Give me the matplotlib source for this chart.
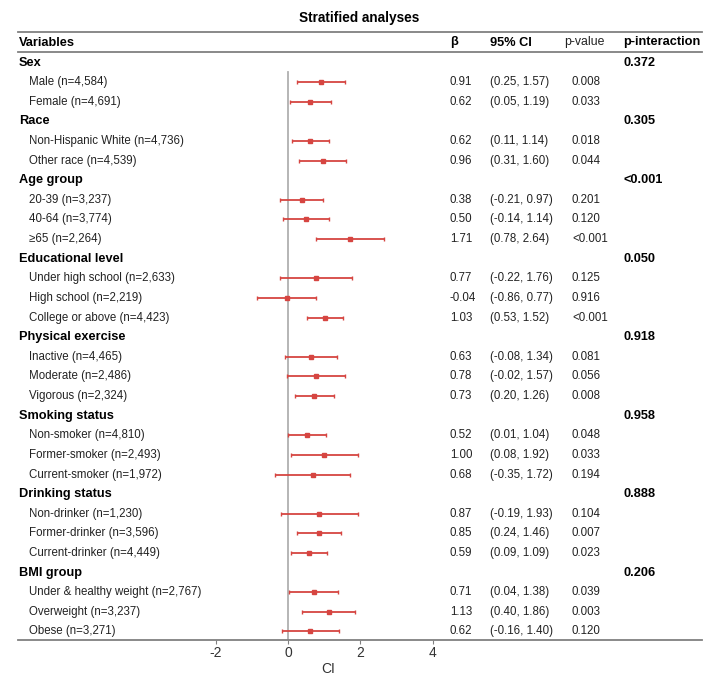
import matplotlib.pyplot as plt
from matplotlib.lines import Line2D
from matplotlib.transforms import blended_transform_factory

plt.rcParams['font.family'] = ['Liberation Sans', 'DejaVu Sans']
plt.rcParams['axes.unicode_minus'] = False

groups = ["Sex", "Race", "Age group", "Educational level", "Physical exercise",
          "Smoking status", "Drinking status", "BMI group"]
p_interaction = ["0.372", "0.305", "<0.001", "0.050", "0.918", "0.958", "0.888", "0.206"]
subgroups = [
    ["Male (n=4,584)", "Female (n=4,691)"],
    ["Non-Hispanic White (n=4,736)", "Other race (n=4,539)"],
    ["20-39 (n=3,237)", "40-64 (n=3,774)", "\u226565 (n=2,264)"],
    ["Under high school (n=2,633)", "High school (n=2,219)", "College or above (n=4,423)"],
    ["Inactive (n=4,465)", "Moderate (n=2,486)", "Vigorous (n=2,324)"],
    ["Non-smoker (n=4,810)", "Former-smoker (n=2,493)", "Current-smoker (n=1,972)"],
    ["Non-drinker (n=1,230)", "Former-drinker (n=3,596)", "Current-drinker (n=4,449)"],
    ["Under & healthy weight (n=2,767)", "Overweight (n=3,237)", "Obese (n=3,271)"],
]
beta = [0.91, 0.62, 0.62, 0.96, 0.38, 0.50, 1.71, 0.77, -0.04, 1.03,
        0.63, 0.78, 0.73, 0.52, 1.00, 0.68, 0.87, 0.85, 0.59, 0.71, 1.13, 0.62]
ci_low = [0.25, 0.05, 0.11, 0.31, -0.21, -0.14, 0.78, -0.22, -0.86, 0.53,
          -0.08, -0.02, 0.20, 0.01, 0.08, -0.35, -0.19, 0.24, 0.09, 0.04, 0.40, -0.16]
ci_high = [1.57, 1.19, 1.14, 1.60, 0.97, 1.14, 2.64, 1.76, 0.77, 1.52,
           1.34, 1.57, 1.26, 1.04, 1.92, 1.72, 1.93, 1.46, 1.09, 1.38, 1.86, 1.40]
p_value = ["0.008", "0.033", "0.018", "0.044", "0.201", "0.120", "<0.001", "0.125",
           "0.916", "<0.001", "0.081", "0.056", "0.008", "0.048", "0.033", "0.194",
           "0.104", "0.007", "0.023", "0.039", "0.003", "0.120"]

W, H = 718, 686
fig = plt.figure(figsize=(W / 100, H / 100), dpi=100)

def fx(px):
    return px / W

def fy(py):
    return 1 - py / H

# axes spans the whole table width, x=0 at pixel 288
ax_l, ax_r, ax_t, ax_b = 18, 702, 52, 640
ax = fig.add_axes([fx(ax_l), fy(ax_b), fx(ax_r - ax_l), (ax_b - ax_t) / H])
scale = 36.2
ax.set_xlim((ax_l - 288) / scale, (ax_r - 288) / scale)
row0, step = 62.5, 19.62
ax.set_ylim((ax_b - row0) / step, (ax_t - row0) / step)

tr = blended_transform_factory(fig.transFigure, ax.transData)
fs = 8.3
bfs = 9.2
txt = '#222222'
red = '#d64541'

row = 0
k = 0
sub_rows = []
for g, gname in enumerate(groups):
    ax.text(fx(19), row, gname, transform=tr, fontsize=bfs, fontweight='bold',
            va='center', ha='left')
    ax.text(fx(623), row, p_interaction[g], transform=tr, fontsize=bfs,
            fontweight='bold', va='center', ha='left')
    row += 1
    for name in subgroups[g]:
        ax.text(fx(29), row, name, transform=tr, fontsize=fs, va='center', ha='left',
                color=txt)
        ax.text(fx(450), row, f"{beta[k]:.2f}", transform=tr, fontsize=fs,
                va='center', ha='left', color=txt)
        ax.text(fx(490), row, f"({ci_low[k]:.2f}, {ci_high[k]:.2f})", transform=tr,
                fontsize=fs, va='center', ha='left', color=txt)
        ax.text(fx(572), row, p_value[k], transform=tr, fontsize=fs,
                va='center', ha='left', color=txt)
        sub_rows.append(row)
        row += 1
        k += 1

ax.plot([0, 0], [(72 - row0) / step, (ax_b - row0) / step], color='#b0b0b0',
        lw=1.3, zorder=1)
err = [[b - lo for b, lo in zip(beta, ci_low)], [hi - b for b, hi in zip(beta, ci_high)]]
ax.errorbar(beta, sub_rows, xerr=err, fmt='s', color=red, ecolor=red, ms=3.3,
            elinewidth=1.3, capsize=1.2, capthick=1.0, zorder=3)

for s in ['left', 'right', 'top']:
    ax.spines[s].set_visible(False)
ax.spines['bottom'].set_color('#808080')
ax.spines['bottom'].set_linewidth(1.3)
ax.set_yticks([])
ax.set_xticks([-2, 0, 2, 4])
ax.tick_params(axis='x', length=3, color='#808080', labelsize=10, pad=1,
               labelcolor='#333333')
ax.set_xlabel('CI', fontsize=10, color='#333333')
ax.xaxis.set_label_coords((288 + 1.1 * scale - ax_l) / (ax_r - ax_l), -0.038)

# header lines and texts
for py in (32, 52):
    fig.add_artist(Line2D([fx(ax_l), fx(ax_r)], [fy(py), fy(py)], color='#808080',
                          lw=1.3))
fig.text(0.5, fy(18), 'Stratified analyses', fontsize=9.8, fontweight='bold',
         ha='center', va='center')
hy = fy(42.5)
fig.text(fx(19), hy, 'Variables', fontsize=bfs, fontweight='bold', va='center')
fig.text(fx(450), hy, '\u03b2', fontsize=bfs, fontweight='bold', va='center')
fig.text(fx(490), hy, '95% CI', fontsize=bfs, fontweight='bold', va='center')
fig.text(fx(564), hy, 'p-value', fontsize=8.8, va='center', color=txt)
fig.text(fx(623), hy, 'p-interaction', fontsize=bfs, fontweight='bold', va='center')

fig.savefig('out.png', dpi=100)
